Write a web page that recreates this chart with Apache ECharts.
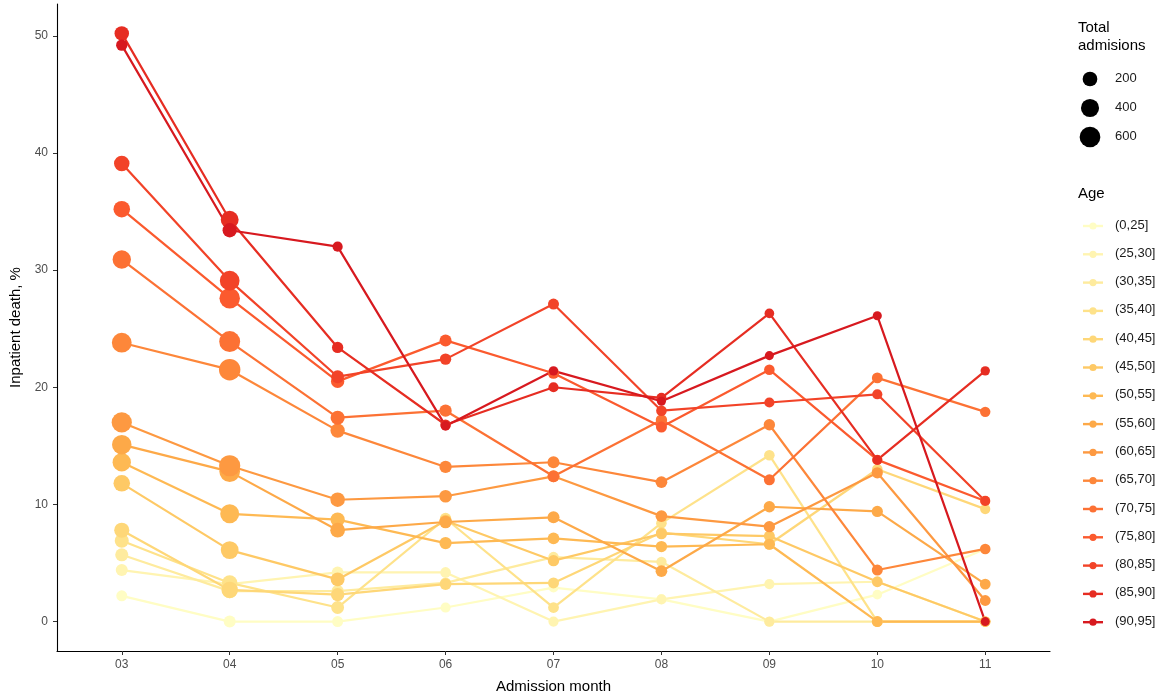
<!DOCTYPE html>
<html>
<head>
<meta charset="utf-8">
<script src="https://cdn.jsdelivr.net/npm/echarts@6/dist/echarts.min.js"></script>
<style>
  html, body { margin: 0; padding: 0; background: #ffffff; }
  #chart { width: 1168px; height: 700px; }
</style>
</head>
<body>
<div id="chart"></div>
<script>
// Admission months (x categories) and y tick values
const months = ['03', '04', '05', '06', '07', '08', '09', '10', '11'];
const yTicks = [0, 10, 20, 30, 40, 50];
const sizeBreaks = [200, 400, 600];

const ageGroups = ['(0,25]', '(25,30]', '(30,35]', '(35,40]', '(40,45]', '(45,50]', '(50,55]',
  '(55,60]', '(60,65]', '(65,70]', '(70,75]', '(75,80]', '(80,85]', '(85,90]', '(90,95]'];

// Inpatient death, % by admission month, one array per age group
const death_0_25  = [2.2, 0.0, 0.0, 1.2, 2.9, 1.9, 0.0, 2.3, 6.2];
const death_25_30 = [4.4, 3.2, 4.2, 4.2, 0.0, 1.9, 3.2, 3.4, 0.0];
const death_30_35 = [5.7, 2.6, 2.6, 3.3, 5.5, 5.1, 0.0, 0.0, 0.0];
const death_35_40 = [6.9, 3.3, 1.2, 8.8, 1.2, 8.4, 14.2, 0.0, 0.0];
const death_40_45 = [7.8, 2.7, 2.3, 3.2, 3.3, 7.6, 6.6, 13.0, 9.6];
const death_45_50 = [11.8, 6.1, 3.6, 8.6, 5.2, 7.5, 7.3, 3.4, 0.0];
const death_50_55 = [13.6, 9.2, 8.7, 6.7, 7.1, 6.4, 6.6, 0.0, 0.0];
const death_55_60 = [15.1, 12.8, 7.8, 8.5, 8.9, 4.3, 9.8, 9.4, 3.2];
const death_60_65 = [17.0, 13.3, 10.4, 10.7, 12.4, 9.0, 8.1, 12.7, 1.8];
const death_65_70 = [23.8, 21.5, 16.3, 13.2, 13.6, 11.9, 16.8, 4.4, 6.2];
const death_70_75 = [30.9, 23.9, 17.4, 18.0, 12.4, 17.2, 12.1, 20.8, 17.9];
const death_75_80 = [35.2, 27.6, 20.5, 24.0, 21.2, 16.6, 21.5, 13.8, 10.3];
const death_80_85 = [39.1, 29.1, 20.9, 22.4, 27.1, 18.0, 18.7, 19.4, 10.3];
const death_85_90 = [50.2, 34.3, 23.4, 16.8, 20.0, 19.1, 26.3, 13.8, 21.4];
const death_90_95 = [49.2, 33.4, 32.0, 16.7, 21.4, 18.8, 22.7, 26.1, 0.0];

// Total admissions by admission month, one array per age group
const adm_0_25  = [60, 90, 60, 40, 35, 35, 35, 30, 25];
const adm_25_30 = [90, 150, 80, 50, 40, 40, 40, 35, 30];
const adm_30_35 = [130, 190, 100, 60, 50, 45, 45, 40, 30];
const adm_35_40 = [170, 240, 120, 70, 55, 50, 50, 45, 35];
const adm_40_45 = [220, 300, 140, 80, 60, 55, 55, 50, 40];
const adm_45_50 = [300, 380, 160, 90, 70, 65, 60, 55, 45];
const adm_50_55 = [420, 460, 180, 100, 80, 70, 65, 60, 50];
const adm_55_60 = [500, 600, 200, 110, 90, 80, 70, 65, 55];
const adm_60_65 = [560, 640, 190, 110, 90, 80, 70, 65, 55];
const adm_65_70 = [520, 660, 180, 100, 90, 80, 70, 60, 50];
const adm_70_75 = [420, 620, 170, 100, 80, 70, 60, 55, 45];
const adm_75_80 = [300, 580, 140, 90, 70, 60, 50, 45, 40];
const adm_80_85 = [240, 520, 120, 70, 60, 50, 40, 40, 30];
const adm_85_90 = [190, 380, 70, 50, 40, 35, 30, 30, 25];
const adm_90_95 = [70, 180, 40, 30, 25, 20, 20, 20, 18];

const deathByGroup = [death_0_25, death_25_30, death_30_35, death_35_40, death_40_45, death_45_50,
  death_50_55, death_55_60, death_60_65, death_65_70, death_70_75, death_75_80, death_80_85,
  death_85_90, death_90_95];
const admByGroup = [adm_0_25, adm_25_30, adm_30_35, adm_35_40, adm_40_45, adm_45_50, adm_50_55,
  adm_55_60, adm_60_65, adm_65_70, adm_70_75, adm_75_80, adm_80_85, adm_85_90, adm_90_95];

// Yellow-orange-red ramp, light for young, dark for old
const palette = ['#FFFDC4', '#FFF4B1', '#FEEB9E', '#FEE28A', '#FED778', '#FEC965', '#FEB953',
  '#FDA948', '#FD9941', '#FD873A', '#FC7134', '#FB5A2E', '#F24328', '#E62D22', '#D7191F'];

// point diameter grows with the square root of admissions
const pointDiameter = n => 6.5 + 0.58 * Math.sqrt(n);

const FONT = 'Liberation Sans, Arial, sans-serif';

// lines first (all groups), then points on top, youngest to oldest
const lineSeries = ageGroups.map((g, i) => ({
  name: g,
  type: 'line',
  data: deathByGroup[i].map((v, k) => [k, v]),
  showSymbol: false,
  symbol: 'none',
  lineStyle: { color: palette[i], width: 2.2 },
  itemStyle: { color: palette[i] },
  z: 2,
  silent: true,
  animation: false
}));

const pointSeries = ageGroups.map((g, i) => ({
  name: g + ' pts',
  type: 'scatter',
  data: deathByGroup[i].map((v, k) => [k, v, admByGroup[i][k]]),
  symbol: 'circle',
  symbolSize: d => pointDiameter(d[2]),
  itemStyle: { color: palette[i], opacity: 1 },
  z: 3,
  silent: true,
  animation: false
}));

// legend titles
const legendGraphics = [
  { type: 'text', left: 1078, top: 20, style: { text: 'Total', font: '15px ' + FONT, fill: '#000' } },
  { type: 'text', left: 1078, top: 38, style: { text: 'admisions', font: '15px ' + FONT, fill: '#000' } },
  { type: 'text', left: 1078, top: 186, style: { text: 'Age', font: '15px ' + FONT, fill: '#000' } }
];

// size legend (Total admissions): black dots scaled like the points
sizeBreaks.forEach((b, i) => {
  const cy = 79 + i * 29;
  legendGraphics.push({
    type: 'circle',
    shape: { cx: 1090, cy: cy, r: pointDiameter(b) / 2 },
    style: { fill: '#000000' }
  });
  legendGraphics.push({
    type: 'text', left: 1115, top: cy - 7,
    style: { text: String(b), font: '13px ' + FONT, fill: '#1a1a1a' }
  });
});

// Age legend: a short line with a dot for each group
ageGroups.forEach((g, i) => {
  const cy = 226 + i * 28.3;
  legendGraphics.push({
    type: 'line',
    shape: { x1: 1083, y1: cy, x2: 1103, y2: cy },
    style: { stroke: palette[i], lineWidth: 2.4 }
  });
  legendGraphics.push({
    type: 'circle',
    shape: { cx: 1093, cy: cy, r: 3.6 },
    style: { fill: palette[i] }
  });
  legendGraphics.push({
    type: 'text', left: 1115, top: cy - 7.5,
    style: { text: g, font: '13px ' + FONT, fill: '#1a1a1a' }
  });
});

const option = {
  backgroundColor: '#ffffff',
  animation: false,
  grid: { left: 57, right: 118, top: 4, bottom: 49, containLabel: false },
  xAxis: {
    type: 'value',
    min: -0.6, max: 8.6,
    name: 'Admission month',
    nameLocation: 'middle',
    nameGap: 28,
    nameTextStyle: { fontFamily: FONT, fontSize: 15, color: '#000' },
    axisLine: { show: true, onZero: false, lineStyle: { color: '#000', width: 1.1 } },
    axisTick: { show: true, length: 4, lineStyle: { color: '#333' }, customValues: months.map((m, k) => k) },
    axisLabel: {
      customValues: months.map((m, k) => k),
      formatter: v => months[Math.round(v)],
      fontFamily: FONT, fontSize: 12, color: '#4d4d4d', margin: 8
    },
    splitLine: { show: false }
  },
  yAxis: {
    type: 'value',
    min: -2.51, max: 52.71,
    name: 'Inpatient death, %',
    nameLocation: 'middle',
    nameGap: 32,
    nameRotate: 90,
    nameTextStyle: { fontFamily: FONT, fontSize: 15, color: '#000' },
    axisLine: { show: true, onZero: false, lineStyle: { color: '#000', width: 1.1 } },
    axisTick: { show: true, length: 4, lineStyle: { color: '#333' }, customValues: yTicks },
    axisLabel: { customValues: yTicks, fontFamily: FONT, fontSize: 12, color: '#4d4d4d', margin: 9 },
    splitLine: { show: false }
  },
  graphic: legendGraphics,
  series: lineSeries.concat(pointSeries)
};

const chart = echarts.init(document.getElementById('chart'), null, { renderer: 'canvas' });
chart.setOption(option);
</script>
</body>
</html>
